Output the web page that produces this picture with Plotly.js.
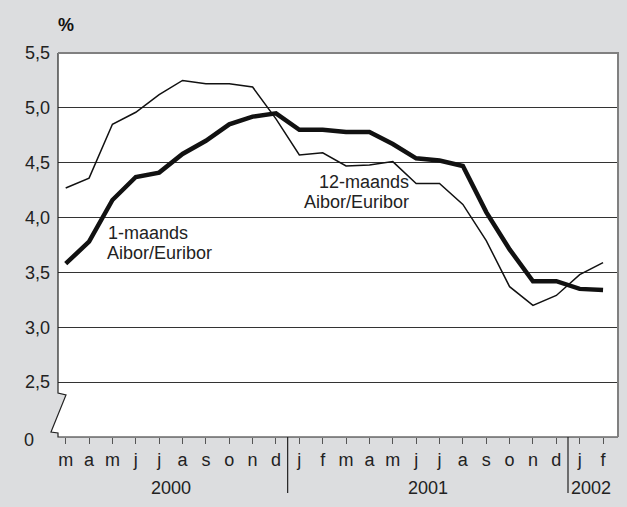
<!DOCTYPE html>
<html>
<head>
<meta charset="utf-8">
<script src="https://cdn.plot.ly/plotly-3.0.1.min.js"></script>
<style>html,body{margin:0;padding:0;background:#dcdddf;}#chart{width:627px;height:507px;}</style>
</head>
<body>
<div id="chart"></div>
<script>
// Months from March 2000 to February 2002
const months = ['m','a','m','j','j','a','s','o','n','d','j','f','m','a','m','j','j','a','s','o','n','d','j','f'];
const years = ['2000','2001','2002'];
const yearCenters = [4.5, 15.5, 22.5];
const yearBreaks = [9.5, 21.5];
// 1-maands Aibor/Euribor (thick)
const oneMonth = [3.58,3.78,4.16,4.37,4.41,4.58,4.70,4.85,4.92,4.95,4.80,4.80,4.78,4.78,4.67,4.54,4.52,4.47,4.05,3.71,3.42,3.42,3.35,3.34];
// 12-maands Aibor/Euribor (thin)
const twelveMonth = [4.27,4.36,4.85,4.96,5.12,5.25,5.22,5.22,5.19,4.90,4.57,4.59,4.47,4.48,4.51,4.31,4.31,4.12,3.79,3.37,3.20,3.29,3.48,3.59];
const yTickVals = [2.0,2.5,3.0,3.5,4.0,4.5,5.0,5.5];
const yTickText = ['','2,5','3,0','3,5','4,0','4,5','5,0','5,5'];
const breakLabel = '0'; // label at the broken-axis origin
const seriesLabels = [['1-maands','Aibor/Euribor'], ['12-maands','Aibor/Euribor']];

const idx = months.map((_, i) => i);
const W = 560, H = 384; // plot area size in px
const px = v => v / W, py = v => v / H;

const FONT = 'Liberation Sans, Arial, sans-serif';
const FS = 18;
const traces = [
  {x: idx, y: twelveMonth, type: 'scatter', mode: 'lines', line: {color: '#111', width: 1.5}, hoverinfo: 'skip'},
  {x: idx, y: oneMonth, type: 'scatter', mode: 'lines', line: {color: '#111', width: 4.5}, hoverinfo: 'skip'}
];

const shapes = [
  // white plot region with axis break wedge
  {type: 'path', xref: 'paper', yref: 'paper', layer: 'below',
   path: `M0,1 L1,1 L1,0 L0,0 L0,${py(4)} L${px(-7)},${py(5)} L${px(8)},${py(42)} L0,${py(44)} Z`,
   fillcolor: '#ffffff', line: {width: 0}},
  // left axis with break + bottom axis
  {type: 'path', xref: 'paper', yref: 'paper',
   path: `M0,1 L0,${py(44)} L${px(8)},${py(42)} L${px(-7)},${py(5)} L0,${py(4)} L0,0 L1,0`,
   line: {color: '#222', width: 1.2}},
  // top and right border
  {type: 'path', xref: 'paper', yref: 'paper',
   path: `M0,1 L1,1 L1,0`, line: {color: '#808080', width: 2}}
];
yearBreaks.forEach(b => shapes.push({type: 'line', xref: 'x', yref: 'paper', x0: b, x1: b, y0: 0, y1: -py(56), line: {color: '#222', width: 1.2}}));

const lab = (text, x, y, anchor) => ({text, xref: 'x', yref: 'y', x, y, xanchor: anchor, yanchor: 'middle', showarrow: false, font: {family: FONT, size: FS, color: '#222'}});
const annotations = [
  {text: '<b>%</b>', xref: 'paper', yref: 'paper', x: px(8), y: 1 + py(28), xanchor: 'center', yanchor: 'middle', showarrow: false, font: {family: FONT, size: FS, color: '#111'}},
  {text: breakLabel, xref: 'paper', yref: 'y', x: px(-36), y: yTickVals[0], yshift: -3, xanchor: 'left', yanchor: 'middle', showarrow: false, font: {family: FONT, size: FS, color: '#222'}},
  lab(seriesLabels[0][0], 1.74, 3.86, 'left'),
  lab(seriesLabels[0][1], 1.70, 3.68, 'left'),
  lab(seriesLabels[1][0], 14.76, 4.325, 'right'),
  lab(seriesLabels[1][1], 14.76, 4.145, 'right')
];
years.forEach((y, i) => annotations.push({text: y, xref: 'x', yref: 'paper', x: yearCenters[i], y: -py(51), xanchor: 'center', yanchor: 'middle', showarrow: false, font: {family: FONT, size: FS, color: '#222'}}));

const layout = {
  width: 627, height: 507,
  margin: {l: 58, r: 9, t: 53, b: 70, pad: 0},
  paper_bgcolor: '#dcdddf',
  plot_bgcolor: 'rgba(0,0,0,0)',
  showlegend: false,
  font: {family: FONT, size: FS, color: '#222'},
  xaxis: {range: [-0.33, 23.64], tickmode: 'array', tickvals: idx, ticktext: months,
          ticks: 'outside', ticklen: 6, tickcolor: '#555', tickwidth: 1, ticklabelstandoff: 0,
          showgrid: false, zeroline: false, showline: false, fixedrange: true},
  yaxis: {range: [2.0, 5.5], tickmode: 'array', tickvals: yTickVals, ticktext: yTickText,
          ticks: '', ticklabelstandoff: 7, showgrid: true, gridcolor: '#333', gridwidth: 1.2,
          zeroline: false, showline: false, fixedrange: true},
  shapes: shapes,
  annotations: annotations
};
Plotly.newPlot('chart', traces, layout, {displayModeBar: false, staticPlot: true});
</script>
</body>
</html>
